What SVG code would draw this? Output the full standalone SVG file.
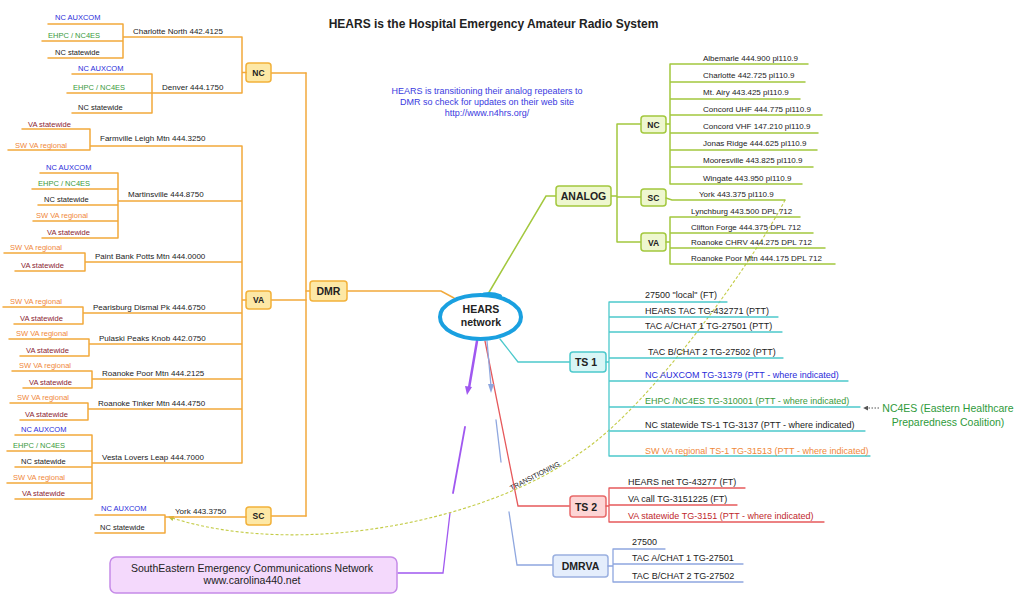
<svg xmlns="http://www.w3.org/2000/svg" width="1024" height="601" viewBox="0 0 1024 601">
<defs>
<style>
text{font-family:"Liberation Sans",Arial,sans-serif;fill:#222}
.o{stroke:#f2a93b;stroke-width:1.5;fill:none;stroke-linecap:round}
.g{stroke:#a3c83e;stroke-width:1.5;fill:none;stroke-linecap:round}
.t{stroke:#4cc9cc;stroke-width:1.3;fill:none;stroke-linecap:round}
.r{stroke:#e6595b;stroke-width:1.3;fill:none;stroke-linecap:round}
.b{stroke:#8fa7df;stroke-width:1.3;fill:none;stroke-linecap:round}
.p{stroke:#a058f0;fill:none;stroke-linecap:round}
.bo{fill:#fde8a6;stroke:#f2b13a;stroke-width:1.5}
.bg{fill:#eef7cf;stroke:#a3c83e;stroke-width:1.5}
.bt{fill:#d9f6f6;stroke:#4cc9cc;stroke-width:1.5}
.br{fill:#fdd5d5;stroke:#e86a6a;stroke-width:1.5}
.bb{fill:#e5eefc;stroke:#9ab0e0;stroke-width:1.5}
.lab{font-weight:bold;text-anchor:middle}
.s7{font-size:7.5px}
.s8{font-size:8px}
.s9{font-size:9px}
.blue{fill:#2b2bd9}
.green{fill:#3a9a3a}
.orange{fill:#f0883a}
.dred{fill:#8b2332}
.red{fill:#c0282d}
</style>
<marker id="ah" viewBox="0 0 6 6" refX="5" refY="3" markerWidth="5" markerHeight="5" orient="auto">
<path d="M0,0 L6,3 L0,6 z" fill="#b8c040"/>
</marker>
<marker id="ah2" viewBox="0 0 6 6" refX="5" refY="3" markerWidth="5" markerHeight="5" orient="auto">
<path d="M0,0 L6,3 L0,6 z" fill="#555"/>
</marker>
</defs>
<rect width="1024" height="601" fill="#fff"/>

<text x="493.5" y="28" font-size="12" font-weight="bold" text-anchor="middle">HEARS is the Hospital Emergency Amateur Radio System</text>
<g id="note" font-size="9" text-anchor="middle">
<text x="487" y="94" class="blue" style="fill:#3a3ae0">HEARS is transitioning their analog repeaters to</text>
<text x="487" y="105" style="fill:#3a3ae0">DMR so check for updates on their web site</text>
<text x="487" y="116" style="fill:#3a3ae0">http://www.n4hrs.org/</text>
</g>

<g id="connectors">
<!-- central connectors -->
<path class="o" d="M347,291 H441 L454,298"/>
<path class="g" d="M488,294 L546,196 H556"/>
<path class="t" d="M500,339 L518,362 H570"/>
<path class="r" d="M485,341 L518,506 H570"/>
<!-- DMRVA relationship (tapered, broken) -->
<path class="b" stroke-width="2.5" d="M487,341 L491,386"/>
<polygon points="488,384 494,384 491,393" fill="#8fa7df"/>
<path class="b" stroke-width="1.8" d="M496,420 L501,462"/>
<path class="b" stroke-width="1.3" d="M509,512 L517,565 H553"/>
<!-- purple relationship -->
<path class="p" stroke-width="2.5" d="M477,341 L469,388"/>
<polygon points="465,386 472,387 467,395" fill="#a058f0"/>
<path class="p" stroke-width="1.8" d="M465,427 L453,493"/>
<path class="p" stroke-width="1.3" d="M450,513 L443,573 H398"/>
<!-- DMR spine -->
<path class="o" d="M306,73 V516"/>
<path class="o" d="M271,73 H306 M271,300 H306 M271,516 H306 M306,291 H310"/>
<!-- ANALOG spine -->
<path class="g" d="M611,196 H617 M617,124 V242 M617,124 H641 M617,197 H641 M617,242 H641"/>
<!-- transitioning dashed -->
<path d="M785,200 C760,250 655,403 580,453 C490,520 300,560 169,517" fill="none" stroke="#c4cc48" stroke-width="1.1" stroke-dasharray="3,2" marker-end="url(#ah)"/>
<text transform="translate(536,478) rotate(-27)" font-size="7" text-anchor="middle">TRANSITIONING</text>
<!-- NC4ES note pointer -->
<path d="M879,408 H864" stroke="#555" stroke-width="1" stroke-dasharray="1.5,1.5" fill="none" marker-end="url(#ah2)"/>
</g>

<g id="hears">
<ellipse cx="480.5" cy="317" rx="40.5" ry="22" fill="#fff" stroke="#1aa0e0" stroke-width="4"/>
<path d="M484,294.5 Q492,293 500,296" stroke="#1aa0e0" stroke-width="4" fill="none" stroke-linecap="round"/>
<text x="481" y="313" font-size="10.5" class="lab">HEARS</text>
<text x="481" y="326" font-size="10.5" class="lab">network</text>
</g>

<g id="dmr">
<rect x="310" y="281" width="37" height="20" rx="3" class="bo"/>
<text x="328.5" y="295" font-size="10.5" class="lab">DMR</text>
</g>

<g id="dmr-nc">
<rect x="246" y="63" width="25" height="19" rx="3" class="bo"/>
<text x="258.5" y="75.5" font-size="8.5" class="lab">NC</text>
<path class="o" d="M246,72.5 H242 M242,37 V93 M242,37 H123 M123,24 V58 M48,24 H123 M42,41 H123 M48,58 H123 M242,93 H152 M152,74 V113 M72,74 H152 M67,93 H152 M72,113 H152"/>
<text x="133" y="34" class="s8">Charlotte North 442.4125</text>
<text x="55" y="20" class="s7 blue">NC AUXCOM</text>
<text x="48" y="37.5" class="s7 green">EHPC / NC4ES</text>
<text x="55" y="54.5" class="s7">NC statewide</text>
<text x="162" y="90" class="s8">Denver 444.1750</text>
<text x="78" y="71" class="s7 blue">NC AUXCOM</text>
<text x="73" y="89.5" class="s7 green">EHPC / NC4ES</text>
<text x="78" y="109.5" class="s7">NC statewide</text>
</g>

<g id="dmr-va">
<rect x="246" y="291" width="25" height="18" rx="3" class="bo"/>
<text x="258.5" y="303" font-size="8.5" class="lab">VA</text>
<path class="o" d="M246,300 H242 M242,146 V463
M90,146 H242 M90,129 V150 M22,129 H90 M8,150 H90
M118,201 H242 M118,173 V238 M40,173 H118 M32,189 H118 M38,205 H118 M33,221 H118 M42,238 H118
M85,262 H242 M85,253 V271 M4,253 H85 M15,271 H85
M83,313 H242 M83,307 V324 M3,307 H83 M14,324 H83
M89,344 H242 M89,339 V356 M9,339 H89 M20,356 H89
M92,379 H242 M92,371 V388 M12,371 H92 M23,388 H92
M88,409 H242 M88,403 V420 M10,403 H88 M20,420 H88
M92,463 H242 M92,435 V499 M15,435 H92 M7,451 H92 M15,467 H92 M7,483 H92 M15,499 H92"/>
<text x="100" y="141" class="s8">Farmville Leigh Mtn 444.3250</text>
<text x="28" y="126.5" class="s7 dred">VA statewide</text>
<text x="15" y="147.5" class="s7 orange">SW VA regional</text>
<text x="128" y="197" class="s8">Martinsville 444.8750</text>
<text x="46" y="169.5" class="s7 blue">NC AUXCOM</text>
<text x="38" y="185.5" class="s7 green">EHPC / NC4ES</text>
<text x="44" y="201.5" class="s7">NC statewide</text>
<text x="36" y="217.5" class="s7 orange">SW VA regional</text>
<text x="47" y="234.5" class="s7 dred">VA statewide</text>
<text x="95" y="259" class="s8">Paint Bank Potts Mtn 444.0000</text>
<text x="10" y="249.5" class="s7 orange">SW VA regional</text>
<text x="21" y="267.5" class="s7 dred">VA statewide</text>
<text x="93" y="310" class="s8">Pearisburg Dismal Pk 444.6750</text>
<text x="10" y="304" class="s7 orange">SW VA regional</text>
<text x="20" y="320.5" class="s7 dred">VA statewide</text>
<text x="99" y="340.5" class="s8">Pulaski Peaks Knob 442.0750</text>
<text x="16" y="335.5" class="s7 orange">SW VA regional</text>
<text x="26" y="352.5" class="s7 dred">VA statewide</text>
<text x="102" y="376" class="s8">Roanoke Poor Mtn 444.2125</text>
<text x="19" y="367.5" class="s7 orange">SW VA regional</text>
<text x="29" y="384.5" class="s7 dred">VA statewide</text>
<text x="98" y="405.5" class="s8">Roanoke Tinker Mtn 444.4750</text>
<text x="17" y="399.5" class="s7 orange">SW VA regional</text>
<text x="25" y="416.5" class="s7 dred">VA statewide</text>
<text x="102" y="459.5" class="s8">Vesta Lovers Leap 444.7000</text>
<text x="21" y="431.5" class="s7 blue">NC AUXCOM</text>
<text x="13" y="447.5" class="s7 green">EHPC / NC4ES</text>
<text x="21" y="463.5" class="s7">NC statewide</text>
<text x="13" y="479.5" class="s7 orange">SW VA regional</text>
<text x="22" y="495.5" class="s7 dred">VA statewide</text>
</g>

<g id="dmr-sc">
<rect x="246" y="507" width="25" height="18" rx="3" class="bo"/>
<text x="258.5" y="519" font-size="8.5" class="lab">SC</text>
<path class="o" d="M165,517 H246 M165,515 V533 M95,515 H165 M95,533 H165"/>
<text x="175" y="513.5" class="s8">York 443.3750</text>
<text x="101" y="511" class="s7 blue">NC AUXCOM</text>
<text x="100" y="529.5" class="s7">NC statewide</text>
</g>

<g id="analog">
<rect x="556" y="186" width="55" height="20" rx="3" class="bg"/>
<text x="583.5" y="200" font-size="10.5" class="lab">ANALOG</text>
</g>

<g id="analog-nc">
<rect x="641" y="116" width="25" height="17" rx="3" class="bg"/>
<text x="653.5" y="128" font-size="8.5" class="lab">NC</text>
<path class="g" d="M666,124 H670 M670,64 V184 M670,64 H808 M670,82 H805 M670,99 H800 M670,115 H822 M670,133 H818 M670,150 H817 M670,167 H813 M670,184 H802"/>
<text x="703" y="60.5" class="s8">Albemarle 444.900 pl110.9</text>
<text x="703" y="78" class="s8">Charlotte 442.725 pl110.9</text>
<text x="703" y="95" class="s8">Mt. Airy 443.425 pl110.9</text>
<text x="703" y="112" class="s8">Concord UHF 444.775 pl110.9</text>
<text x="703" y="129" class="s8">Concord VHF 147.210 pl110.9</text>
<text x="703" y="146" class="s8">Jonas Ridge 444.625 pl110.9</text>
<text x="703" y="163" class="s8">Mooresville 443.825 pl110.9</text>
<text x="703" y="180.5" class="s8">Wingate 443.950 pl110.9</text>
</g>

<g id="analog-sc">
<rect x="641" y="189" width="25" height="17" rx="3" class="bg"/>
<text x="653.5" y="201" font-size="8.5" class="lab">SC</text>
<path class="g" d="M666,198 L672,200 H785"/>
<text x="699" y="197" class="s8">York 443.375 pl110.9</text>
</g>

<g id="analog-va">
<rect x="641" y="233" width="25" height="18" rx="3" class="bg"/>
<text x="653.5" y="245.5" font-size="8.5" class="lab">VA</text>
<path class="g" d="M666,242 H670 M670,217 V264 M670,217 H800 M670,233 H813 M670,248 H825 M670,264 H835"/>
<text x="691" y="214" class="s8">Lynchburg 443.500 DPL 712</text>
<text x="691" y="229.5" class="s8">Clifton Forge 444.375 DPL 712</text>
<text x="691" y="245" class="s8">Roanoke CHRV 444.275 DPL 712</text>
<text x="691" y="261" class="s8">Roanoke Poor Mtn 444.175 DPL 712</text>
</g>

<g id="ts1">
<rect x="570" y="352" width="36" height="20" rx="3" class="bt"/>
<text x="586" y="366" font-size="10.5" class="lab">TS 1</text>
<path class="t" d="M606,362 H609 M609,302 V456 M609,302 H727 M609,317 H778 M609,332 H782 M609,358 H783 M609,381 H848 M609,407 H860 M609,431 H865 M609,456 H870"/>
<text x="645" y="298" class="s9">27500 "local" (FT)</text>
<text x="645" y="314" class="s9">HEARS TAC TG-432771 (PTT)</text>
<text x="645" y="329" class="s9">TAC A/CHAT 1 TG-27501 (PTT)</text>
<text x="648" y="355" class="s9">TAC B/CHAT 2 TG-27502 (PTT)</text>
<text x="645" y="378" class="s9 blue">NC AUXCOM TG-31379 (PTT - where indicated)</text>
<text x="645" y="404" class="s9 green">EHPC /NC4ES TG-310001 (PTT - where indicated)</text>
<text x="645" y="428" class="s9">NC statewide TS-1 TG-3137 (PTT - where indicated)</text>
<text x="645" y="453.5" class="s9 orange">SW VA regional TS-1 TG-31513 (PTT - where indicated)</text>
</g>

<g id="nc4es">
<text x="948" y="412" font-size="10.5" text-anchor="middle" style="fill:#2e9a3a">NC4ES (Eastern Healthcare</text>
<text x="948" y="426" font-size="10.5" text-anchor="middle" style="fill:#2e9a3a">Preparedness Coalition)</text>
</g>

<g id="ts2">
<rect x="570" y="496" width="36" height="21" rx="3" class="br"/>
<text x="586" y="510.5" font-size="10.5" class="lab">TS 2</text>
<path class="r" d="M606,506 H609 M609,488 V522 M609,488 H745 M609,505 H737 M609,522 H824"/>
<text x="628" y="484.5" class="s9">HEARS net TG-43277 (FT)</text>
<text x="628" y="502" class="s9">VA call TG-3151225 (FT)</text>
<text x="628" y="519" class="s9 red">VA statewide TG-3151 (PTT - where indicated)</text>
</g>

<g id="dmrva">
<rect x="553" y="555" width="55" height="22" rx="3" class="bb"/>
<text x="580.5" y="570" font-size="10.5" class="lab">DMRVA</text>
<path class="b" d="M608,566 H613 M613,549 V582 M613,549 H665 M613,564 H743 M613,582 H743"/>
<text x="632" y="545" class="s9">27500</text>
<text x="632" y="561" class="s9">TAC A/CHAT 1 TG-27501</text>
<text x="632" y="578.5" class="s9">TAC B/CHAT 2 TG-27502</text>
</g>

<g id="secn">
<rect x="110" y="557" width="287" height="36" rx="6" fill="#f4d9fc" stroke="#c58ae8" stroke-width="1.5"/>
<text x="252" y="571.5" font-size="10.5" text-anchor="middle">SouthEastern Emergency Communications Network</text>
<text x="252" y="584" font-size="10.5" text-anchor="middle">www.carolina440.net</text>
</g>
</svg>
